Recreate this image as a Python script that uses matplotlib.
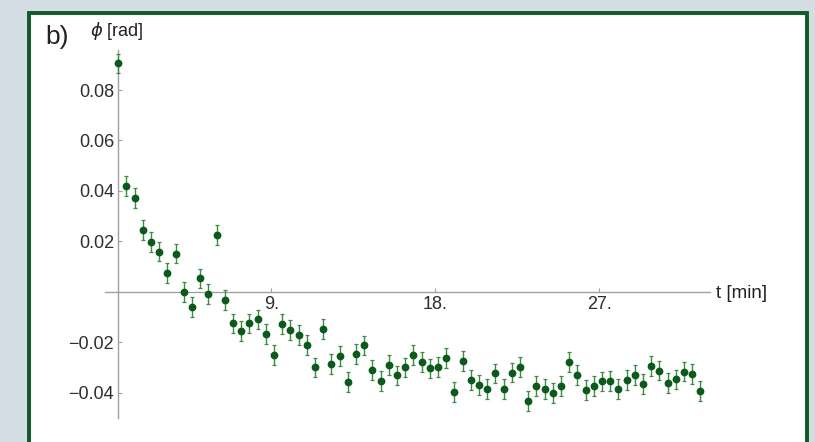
import matplotlib
matplotlib.use("Agg")
import matplotlib.pyplot as plt
from matplotlib.patches import Rectangle

plt.rcParams['font.family'] = ['Liberation Sans', 'DejaVu Sans']

# Phase drift measurement: time in minutes, phase in radians
t_min = [0.60, 1.05, 1.50, 1.95, 2.40, 2.85, 3.30, 3.75, 4.20, 4.65,
         5.10, 5.55, 6.00, 6.45, 6.90, 7.35, 7.80, 8.25, 8.70, 9.15,
         9.60, 10.05, 10.50, 10.95, 11.40, 11.85, 12.30, 12.75, 13.20, 13.65,
         14.10, 14.55, 15.00, 15.45, 15.90, 16.35, 16.80, 17.25, 17.70, 18.15,
         18.60, 19.05, 19.50, 19.95, 20.40, 20.85, 21.30, 21.75, 22.20, 22.65,
         23.10, 23.55, 24.00, 24.45, 24.90, 25.35, 25.80, 26.25, 26.70, 27.15,
         27.60, 28.05, 28.50, 28.95, 29.40, 29.85, 30.30, 30.75, 31.20, 31.65,
         32.10, 32.55]
phi_rad = [0.0906, 0.0419, 0.0373, 0.0244, 0.0198, 0.0159, 0.0075, 0.0151, 0.0000, -0.0060,
           0.0053, -0.0009, 0.0226, -0.0033, -0.0126, -0.0156, -0.0126, -0.0110, -0.0169, -0.0252,
           -0.0129, -0.0152, -0.0172, -0.0212, -0.0300, -0.0149, -0.0288, -0.0256, -0.0359, -0.0247,
           -0.0213, -0.0311, -0.0353, -0.0291, -0.0332, -0.0300, -0.0251, -0.0279, -0.0304, -0.0298,
           -0.0262, -0.0397, -0.0274, -0.0350, -0.0370, -0.0386, -0.0324, -0.0385, -0.0321, -0.0298,
           -0.0433, -0.0374, -0.0386, -0.0403, -0.0373, -0.0280, -0.0331, -0.0390, -0.0374, -0.0356,
           -0.0353, -0.0387, -0.0350, -0.0331, -0.0367, -0.0295, -0.0313, -0.0361, -0.0348, -0.0317,
           -0.0327, -0.0393]
phi_err = 0.0039

x_ticks = [9, 18, 27]
x_tick_labels = ["9.", "18.", "27."]
y_ticks = [-0.04, -0.02, 0.02, 0.04, 0.06, 0.08]
y_tick_labels = ["\u22120.04", "\u22120.02", "0.02", "0.04", "0.06", "0.08"]

W, H = 815, 442
fig = plt.figure(figsize=(W / 100, H / 100), dpi=100)
fig.patch.set_facecolor('#d4dce4')

# white panel with dark green frame (open at the bottom edge)
panel = Rectangle((28.5 / W, -0.05), (806.5 - 28.5) / W, (H - 12.5) / H + 0.05,
                  transform=fig.transFigure, facecolor='white',
                  edgecolor='#0d5a26', linewidth=2.8, zorder=-5)
fig.patches.append(panel)

left_px, right_px, top_px, bottom_px = 105, 710, 50, 418
ax = fig.add_axes([left_px / W, (H - bottom_px) / H,
                   (right_px - left_px) / W, (bottom_px - top_px) / H])
ax.set_zorder(2)
ax.set_facecolor('none')
ax.set_xlim(-0.13, 33.08)
ax.set_ylim(-0.0501, 0.0959)

axis_col = '#a0a0a0'
for s in ['top', 'right']:
    ax.spines[s].set_visible(False)
ax.spines['left'].set_position(('data', 0.6))
ax.spines['bottom'].set_position(('data', 0.0))
for s in ['left', 'bottom']:
    ax.spines[s].set_color(axis_col)
    ax.spines[s].set_linewidth(1.0)

ax.set_xticks(x_ticks)
ax.set_xticklabels(x_tick_labels)
ax.set_yticks(y_ticks)
ax.set_yticklabels(y_tick_labels)
ax.tick_params(axis='both', direction='in', length=3, width=0.8,
               color=axis_col, labelsize=13, labelcolor='#2e2e2e')
ax.tick_params(axis='x', pad=3)
ax.tick_params(axis='y', pad=3)

ax.errorbar(t_min, phi_rad, yerr=phi_err, fmt='o', color='#0b5a1c',
            markersize=4.6, ecolor='#3f8a45', elinewidth=1.0,
            capsize=1.6, capthick=0.9, zorder=3, clip_on=False)

fig.text(45 / W, 1 - 37 / H, "b)", fontsize=19, color='#222222',
         va='center', ha='left')
fig.text(90 / W, 1 - 31 / H, r"$\phi$ [rad]", fontsize=13, color='#222222',
         va='center', ha='left')
fig.text(716 / W, 1 - 294 / H, "t [min]", fontsize=13.5, color='#222222',
         va='center', ha='left')

fig.savefig("out.png", dpi=100, facecolor=fig.get_facecolor())
